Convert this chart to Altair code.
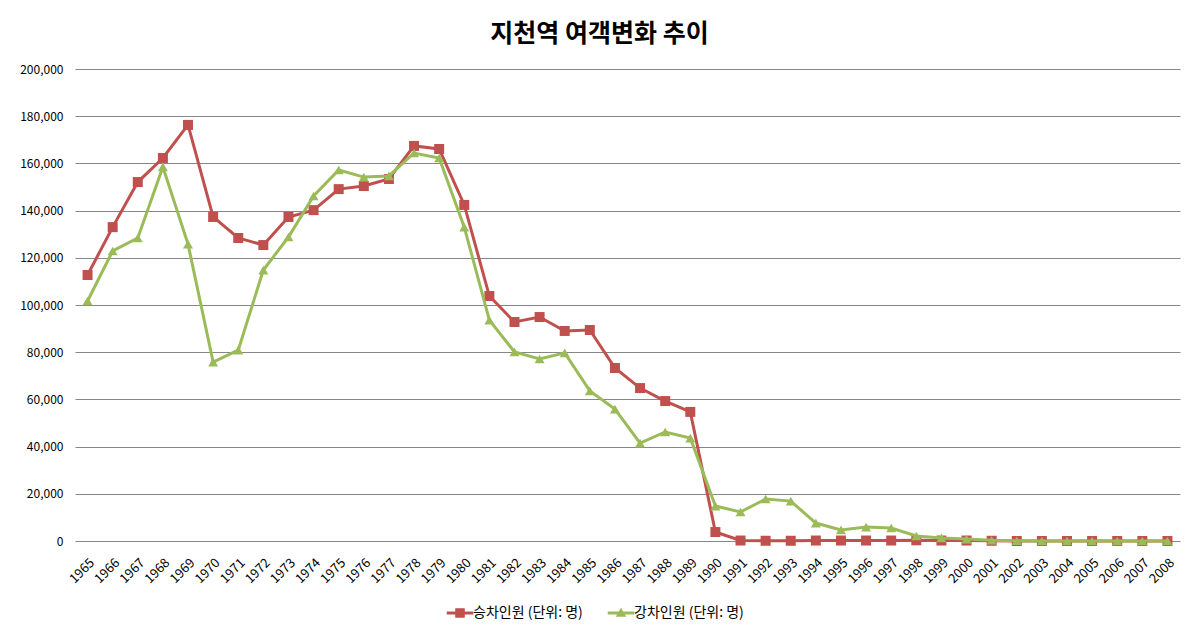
import altair as alt
import pandas as pd

years = list(range(1965, 2009))

boarding = [112700, 133000, 152100, 162300, 176300, 137300, 128400, 125400, 137300, 140200,
            149100, 150400, 153400, 167400, 166100, 142400, 103800, 92800, 94900, 89000,
            89400, 73300, 64800, 59300, 54700, 3800, 200, 100, 100, 200,
            200, 200, 200, 300, 200, 200, 100, 0, 0, 0,
            0, 0, 0, 0]

alighting = [101700, 122900, 128400, 158500, 125800, 75800, 80900, 114800, 128800, 146200,
             157200, 154200, 154700, 164400, 162300, 133000, 93600, 80100, 77100, 79700,
             63600, 55900, 41500, 46200, 43600, 14800, 12300, 17800, 16900, 7600,
             4700, 5900, 5500, 2100, 1300, 800, 300, 100, 0, 0,
             0, 0, 0, 0]

series_names = ["승차인원 (단위: 명)", "강차인원 (단위: 명)"]
series_colors = ["#C0504D", "#9BBB59"]
legend_shapes = [
    "M-1.25,-0.14H1.25V0.14H-1.25Z M-0.45,-0.45H0.45V0.45H-0.45Z",
    "M-1.25,-0.14H1.25V0.14H-1.25Z M0,-0.5L0.5,0.35H-0.5Z",
]

df = pd.DataFrame({
    "year": [str(y) for y in years] * 2,
    "value": boarding + alighting,
    "series": [series_names[0]] * len(years) + [series_names[1]] * len(years),
})

FONT = "Noto Sans CJK KR"

x_enc = alt.X("year:O", title=None,
              axis=alt.Axis(labelAngle=-45, domain=False, ticks=False, labelPadding=15,
                            labelFontSize=13, labelColor="#000000", labelFont=FONT))
y_enc = alt.Y("value:Q", title=None,
              scale=alt.Scale(domain=[0, 200000], nice=False),
              axis=alt.Axis(values=list(range(0, 200001, 20000)), format=",.0f", domain=False,
                            ticks=False, labelPadding=12, grid=True, gridColor="#868686",
                            gridWidth=1, labelFontSize=12, labelColor="#000000",
                            labelFont=FONT))

base = alt.Chart(df)

layers = []
shapes_plot = ["square", "triangle-up"]
sizes_plot = [100, 100]
for name, col, shp, sz in zip(series_names, series_colors, shapes_plot, sizes_plot):
    sub = base.transform_filter(alt.datum.series == name)
    layers.append(sub.mark_line(strokeWidth=3, color=col).encode(x=x_enc, y=y_enc))
    layers.append(sub.mark_point(shape=shp, filled=True, size=sz, opacity=1, color=col)
                  .encode(x=x_enc, y=y_enc))

legend_layer = base.transform_filter("false").mark_point(filled=True, opacity=1).encode(
    x=x_enc, y=y_enc,
    color=alt.Color("series:N", scale=alt.Scale(domain=series_names, range=series_colors),
                    legend=alt.Legend(title=None, orient="none", direction="horizontal",
                                      legendX=374, legendY=533,
                                      symbolSize=450, symbolStrokeWidth=0, symbolOpacity=1,
                                      labelFontSize=14, labelColor="#000000",
                                      labelFont=FONT, columnPadding=24,
                                      labelOffset=2)),
    shape=alt.Shape("series:N", scale=alt.Scale(domain=series_names, range=legend_shapes)),
)
layers.append(legend_layer)

chart = alt.layer(*layers).properties(
    width=1105,
    height=472,
    title=alt.TitleParams("지천역 여객변화 추이", fontSize=25, fontWeight="bold",
                          font=FONT, color="#000000", offset=16, anchor="middle", dx=-28),
    autosize=alt.AutoSizeParams(type="none"),
    padding={"left": 67, "top": 61, "right": 7, "bottom": 80},
    background="#FFFFFF",
).configure_view(stroke=None)

chart.save("out.html", embed_options={"renderer": "svg", "actions": False})
